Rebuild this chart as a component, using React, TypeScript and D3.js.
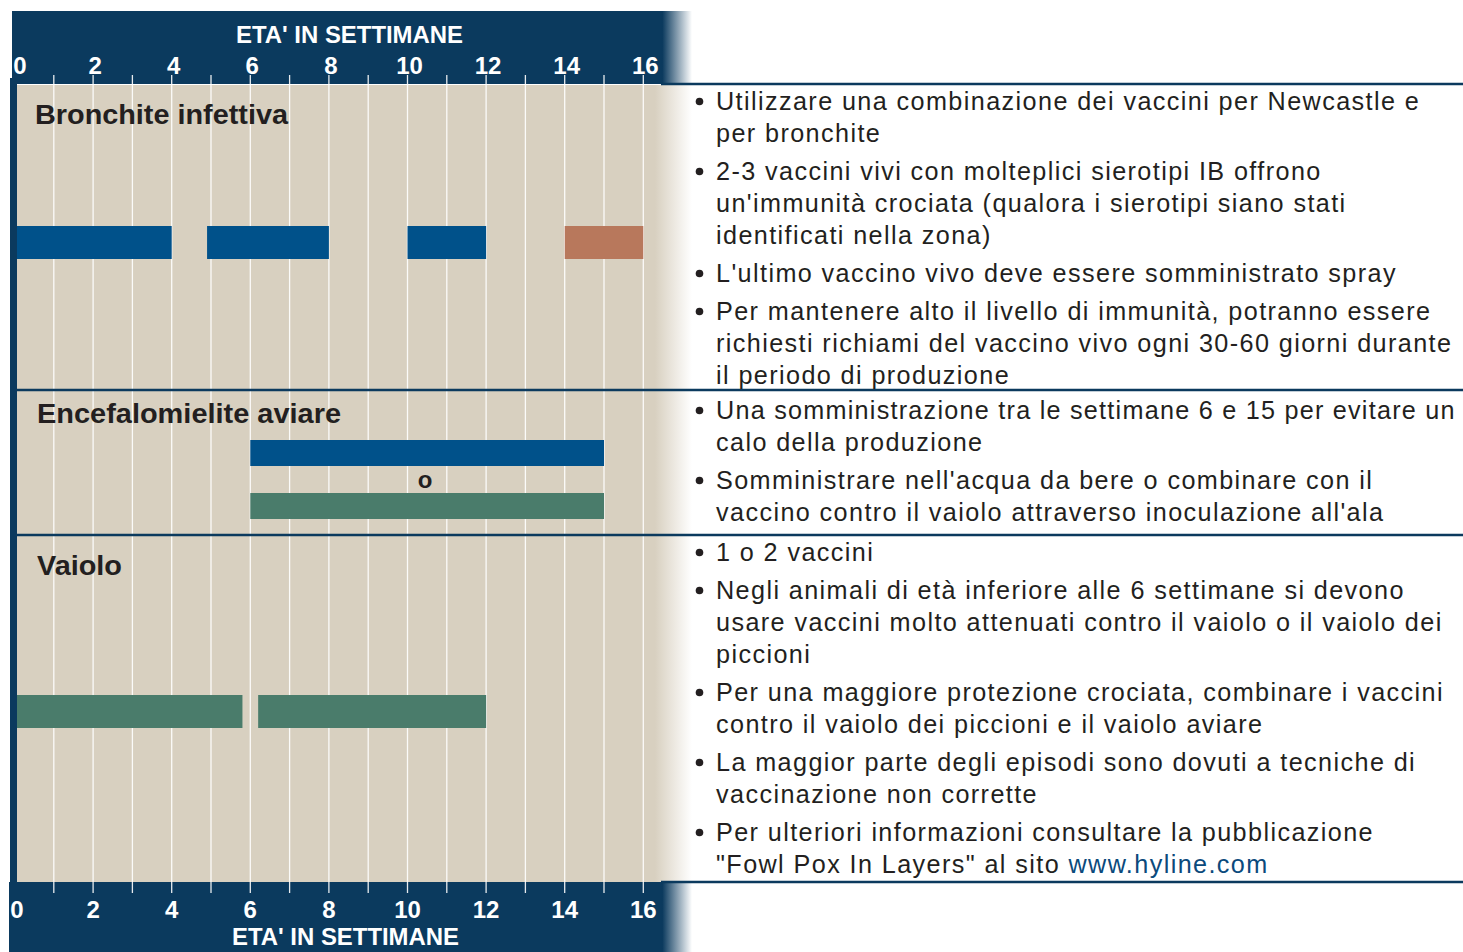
import React, { useLayoutEffect, useRef } from "react";
import * as d3 from "d3";

// ---------- DATA ----------
const axisTitle = "ETA' IN SETTIMANE";
const weekDomain = [0, 16];
const weekTicks = [0, 2, 4, 6, 8, 10, 12, 14, 16];
const gridWeeks = [1, 2, 3, 4, 5, 6, 7, 8, 9, 10, 11, 12, 13, 14, 15, 16];

const diseases = ["Bronchite infettiva", "Encefalomielite aviare", "Vaiolo"];

// [start week, end week]
const bronchiteLive = [[0, 4], [4.9, 8], [10, 12]];
const bronchiteKilled = [[14, 16]];
const encefaloLive = [[6, 15]];
const encefaloWing = [[6, 15]];
const vaioloWing = [[0, 5.8], [6.2, 12]];
const orLabel = "o";

const bronchiteNotes = [
  ["Utilizzare una combinazione dei vaccini per Newcastle e", "per bronchite"],
  ["2-3 vaccini vivi con molteplici sierotipi IB offrono", "un'immunità crociata (qualora i sierotipi siano stati", "identificati nella zona)"],
  ["L'ultimo vaccino vivo deve essere somministrato spray"],
  ["Per mantenere alto il livello di immunità, potranno essere", "richiesti richiami del vaccino vivo ogni 30-60 giorni durante", "il periodo di produzione"],
];
const encefaloNotes = [
  ["Una somministrazione tra le settimane 6 e 15 per evitare un", "calo della produzione"],
  ["Somministrare nell'acqua da bere o combinare con il", "vaccino contro il vaiolo attraverso inoculazione all'ala"],
];
const vaioloNotes = [
  ["1 o 2 vaccini"],
  ["Negli animali di età inferiore alle 6 settimane si devono", "usare vaccini molto attenuati contro il vaiolo o il vaiolo dei", "piccioni"],
  ["Per una maggiore protezione crociata, combinare i vaccini", "contro il vaiolo dei piccioni e il vaiolo aviare"],
  ["La maggior parte degli episodi sono dovuti a tecniche di", "vaccinazione non corrette"],
  ["Per ulteriori informazioni consultare la pubblicazione", "\"Fowl Pox In Layers\" al sito |www.hyline.com"],
];

// ---------- STYLE ----------
const NAVY = "#0b3a5e";
const BLUE = "#00518a";
const BROWN = "#b8785c";
const GREEN = "#4a7c6b";
const BEIGE = "#d8d0c0";
const INK = "#231f20";
const LINK = "#0b4a7c";
const COND = "'Liberation Sans Narrow', 'Arial Narrow', 'Liberation Sans', sans-serif";
const BODY = "'Liberation Sans', Arial, sans-serif";

export default function App() {
  const W = 1463, H = 952;
  const svgRef = useRef<SVGSVGElement | null>(null);
  const x = d3.scaleLinear().domain(weekDomain).range([14.5, 643.3]);
  const panelL = 17, panelR = 655, fadeW = 37;
  const topBandY = 11, panelTop = 84, panelBot = 882;
  const sep1 = 390, sep2 = 535;
  const maxNoteW = 740;

  useLayoutEffect(() => {
    if (!svgRef.current) return;
    d3.select(svgRef.current).selectAll<SVGTextElement, unknown>("text.note").each(function () {
      const len = this.getComputedTextLength();
      if (len > maxNoteW) {
        this.setAttribute("textLength", String(maxNoteW));
        this.setAttribute("lengthAdjust", "spacing");
      }
    });
  }, []);

  const barRect = (arr: number[][], y0: number, h: number, color: string, key: string) =>
    arr.map(([a, b], i) => {
      const xa = Math.max(x(a), panelL);
      return <rect key={key + i} x={xa} y={y0} width={x(b) - xa} height={h} fill={color} />;
    });

  const renderNotes = (notes: string[][], startY: number, keyp: string) => {
    const out: any[] = [];
    let y = startY;
    notes.forEach((lines, bi) => {
      out.push(<circle key={keyp + "b" + bi} cx={699.5} cy={y - 8.5} r={3.8} fill={INK} />);
      lines.forEach((ln, li) => {
        const parts = ln.split("|");
        out.push(
          <text key={keyp + bi + "-" + li} className="note" x={716} y={y} fontFamily={BODY} fontSize={25.2} fill={INK}
            letterSpacing={1.4}>
            {parts[0]}
            {parts[1] ? <tspan fill={LINK}>{parts[1]}</tspan> : null}
          </text>
        );
        y += 32;
      });
      y += 6;
    });
    return out;
  };

  return (
    <svg ref={svgRef} width={W} height={H} style={{ position: "absolute", left: 0, top: 0 }} xmlns="http://www.w3.org/2000/svg">
      <defs>
        <linearGradient id="fadeNavy" x1="0" x2="1" y1="0" y2="0">
          <stop offset="0" stopColor={NAVY} stopOpacity={1} />
          <stop offset="0.2" stopColor={NAVY} stopOpacity={1} />
          <stop offset="1" stopColor={NAVY} stopOpacity={0} />
        </linearGradient>
        <linearGradient id="fadeBeige" x1="0" x2="1" y1="0" y2="0">
          <stop offset="0" stopColor={BEIGE} stopOpacity={1} />
          <stop offset="1" stopColor={BEIGE} stopOpacity={0} />
        </linearGradient>
      </defs>
      <rect x={0} y={0} width={W} height={H} fill="#fff" />

      {/* top band */}
      <rect x={12} y={topBandY} width={panelR - 12} height={panelTop - topBandY} fill={NAVY} />
      <rect x={panelR} y={topBandY} width={fadeW} height={panelTop - topBandY} fill="url(#fadeNavy)" />
      {/* bottom band */}
      <rect x={9} y={panelBot} width={panelR - 9} height={H - panelBot} fill={NAVY} />
      <rect x={panelR} y={panelBot} width={fadeW} height={H - panelBot} fill="url(#fadeNavy)" />

      {/* panel */}
      <rect x={panelL} y={panelTop + 1} width={panelR - panelL} height={panelBot - panelTop - 1} fill={BEIGE} />
      <rect x={panelR} y={panelTop + 1} width={fadeW} height={panelBot - panelTop - 1} fill="url(#fadeBeige)" />
      <rect x={10} y={78} width={7} height={panelBot - 78 + 1} fill={NAVY} />

      {/* grid lines */}
      {gridWeeks.map((w) => (
        <line key={"g" + w} x1={x(w)} x2={x(w)} y1={75} y2={893} stroke="#fff" strokeWidth={1.3} strokeOpacity={0.9} />
      ))}

      {/* separators */}
      <line x1={661} x2={W} y1={panelTop} y2={panelTop} stroke={NAVY} strokeWidth={2.5} />
      <line x1={panelL} x2={W} y1={sep1} y2={sep1} stroke={NAVY} strokeWidth={2.5} />
      <line x1={panelL} x2={W} y1={sep2} y2={sep2} stroke={NAVY} strokeWidth={2.5} />
      <line x1={661} x2={W} y1={panelBot} y2={panelBot} stroke={NAVY} strokeWidth={2.5} />

      {/* axis titles */}
      <text x={349.5} y={43} textAnchor="middle" fill="#fff" fontFamily={COND} fontWeight="bold" fontSize={24}
        textLength={227} lengthAdjust="spacingAndGlyphs">{axisTitle}</text>
      <text x={345.5} y={945} textAnchor="middle" fill="#fff" fontFamily={COND} fontWeight="bold" fontSize={24}
        textLength={227} lengthAdjust="spacingAndGlyphs">{axisTitle}</text>

      {/* tick labels */}
      {weekTicks.map((w) => (
        <text key={"t" + w} x={w === 0 ? 20 : x(w) + 2} y={74} textAnchor="middle" fill="#fff" fontFamily={COND}
          fontWeight="bold" fontSize={24}>{w}</text>
      ))}
      {weekTicks.map((w) => (
        <text key={"b" + w} x={w === 0 ? 17 : x(w)} y={918} textAnchor="middle" fill="#fff" fontFamily={COND}
          fontWeight="bold" fontSize={24}>{w}</text>
      ))}

      {/* row labels */}
      <text x={35} y={124} fill={INK} fontFamily={COND} fontWeight="bold" fontSize={28} textLength={253}
        lengthAdjust="spacingAndGlyphs">{diseases[0]}</text>
      <text x={37} y={423} fill={INK} fontFamily={COND} fontWeight="bold" fontSize={28} textLength={304}
        lengthAdjust="spacingAndGlyphs">{diseases[1]}</text>
      <text x={37} y={575} fill={INK} fontFamily={COND} fontWeight="bold" fontSize={28} textLength={85}
        lengthAdjust="spacingAndGlyphs">{diseases[2]}</text>

      {/* bars */}
      {barRect(bronchiteLive, 226, 33, BLUE, "bl")}
      {barRect(bronchiteKilled, 226, 33, BROWN, "bk")}
      {barRect(encefaloLive, 440, 26, BLUE, "el")}
      {barRect(encefaloWing, 493, 26, GREEN, "ew")}
      {barRect(vaioloWing, 695, 33, GREEN, "vw")}
      <text x={425} y={488} textAnchor="middle" fill={INK} fontFamily={COND} fontWeight="bold" fontSize={24}>{orLabel}</text>

      {/* notes */}
      {renderNotes(bronchiteNotes, 110, "n1")}
      {renderNotes(encefaloNotes, 419, "n2")}
      {renderNotes(vaioloNotes, 561, "n3")}
    </svg>
  );
}
